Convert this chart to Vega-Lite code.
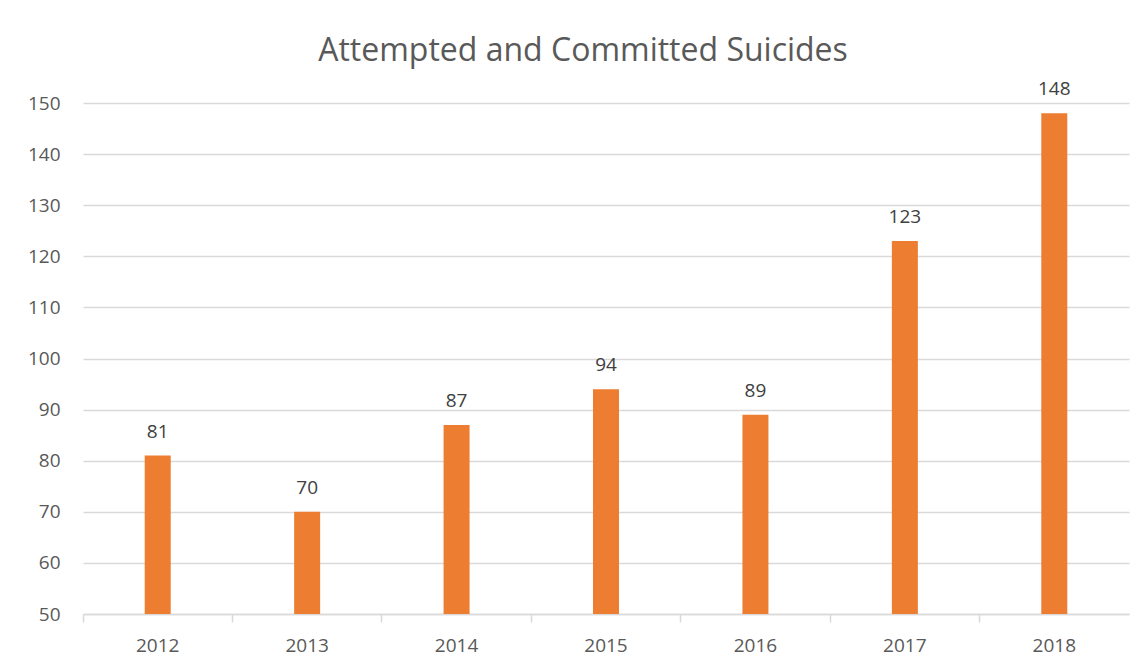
{
  "$schema": "https://vega.github.io/schema/vega-lite/v6.json",
  "width": 1046,
  "height": 511,
  "autosize": "none",
  "padding": {"left": 83, "top": 103, "right": 16, "bottom": 58},
  "background": "white",
  "title": {
    "text": "Attempted and Committed Suicides",
    "fontSize": 32,
    "font": "Open Sans",
    "fontWeight": "normal",
    "color": "#595959",
    "anchor": "middle",
    "dx": -23,
    "offset": 12
  },
  "data": {
    "values": [
      {"year": "2012", "count": 81},
      {"year": "2013", "count": 70},
      {"year": "2014", "count": 87},
      {"year": "2015", "count": 94},
      {"year": "2016", "count": 89},
      {"year": "2017", "count": 123},
      {"year": "2018", "count": 148}
    ]
  },
  "encoding": {
    "x": {
      "field": "year",
      "type": "nominal",
      "title": null,
      "scale": {"paddingInner": 0, "paddingOuter": 0},
      "axis": {
        "labelAngle": 0,
        "labelFontSize": 19,
        "labelFont": "Open Sans",
        "labelColor": "#595959",
        "labelPadding": 14,
        "domainColor": "#d9d9d9",
        "domainWidth": 1.5,
        "tickColor": "#d9d9d9",
        "tickSize": 8,
        "tickWidth": 1.5,
        "bandPosition": 0,
        "grid": false
      }
    },
    "y": {
      "field": "count",
      "type": "quantitative",
      "title": null,
      "scale": {"domain": [50, 150], "nice": false, "zero": false},
      "axis": {
        "values": [50, 60, 70, 80, 90, 100, 110, 120, 130, 140, 150],
        "labelFontSize": 19,
        "labelFont": "Open Sans",
        "labelColor": "#595959",
        "labelPadding": 23,
        "domain": false,
        "ticks": false,
        "grid": true,
        "gridColor": "#d9d9d9",
        "gridWidth": 1.5
      }
    }
  },
  "layer": [
    {
      "mark": {"type": "bar", "width": 26, "color": "#ED7D31"},
      "encoding": {"y2": {"datum": 50}}
    },
    {
      "mark": {
        "type": "text",
        "baseline": "bottom",
        "dy": -14,
        "fontSize": 19,
        "font": "Open Sans",
        "color": "#404040"
      },
      "encoding": {"text": {"field": "count", "type": "quantitative"}}
    }
  ],
  "config": {"view": {"stroke": null}}
}
